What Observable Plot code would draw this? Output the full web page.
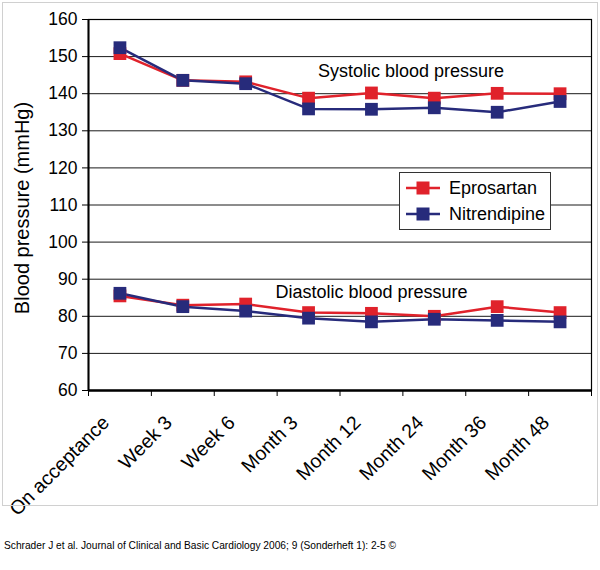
<!DOCTYPE html>
<html>
<head>
<meta charset="utf-8">
<script src="https://cdn.jsdelivr.net/npm/d3@7"></script>
<script src="https://cdn.jsdelivr.net/npm/@observablehq/plot@0.6"></script>
<style>
  html, body { margin: 0; padding: 0; background: white; }
  #wrap { position: relative; width: 600px; height: 570px; background: white; font-family: "Liberation Sans", Arial, sans-serif; overflow: hidden; }
  #border { position: absolute; left: 2px; top: 2px; width: 594px; height: 502px; border: 1px solid #d0d0d0; pointer-events: none; }
  #legend { position: absolute; left: 399px; top: 172px; width: 150px; height: 56px; border: 1px solid #333; background: white; font-size: 18px; color: black; }
  #legend .item { position: absolute; left: 5px; height: 24px; display: flex; align-items: center; }
  #legend svg { margin-right: 8px; }
  #caption { position: absolute; left: 4px; top: 540px; font-size: 10.2px; color: black; white-space: nowrap; }
</style>
</head>
<body>
<div id="wrap">
  <div id="chart"></div>
  <div id="border"></div>
  <div id="legend"></div>
  <div id="caption"></div>
</div>
<script>
const categories = ["On acceptance", "Week 3", "Week 6", "Month 3", "Month 12", "Month 24", "Month 36", "Month 48"];
const eprosartanSystolic   = [150.8, 143.6, 143.2, 138.8, 140.2, 138.8, 140.1, 140.0];
const nitrendipineSystolic = [152.4, 143.6, 142.7, 135.9, 135.8, 136.2, 135.0, 137.9];
const eprosartanDiastolic   = [85.5, 83.0, 83.3, 81.0, 80.8, 80.0, 82.6, 81.0];
const nitrendipineDiastolic = [86.2, 82.6, 81.4, 79.5, 78.5, 79.2, 78.9, 78.5];
const drugs = ["Eprosartan", "Nitrendipine"];
const drugColors = ["#e0222b", "#272b7b"];
const yTicks = [60, 70, 80, 90, 100, 110, 120, 130, 140, 150, 160];
const annotations = [
  {label: "Systolic blood pressure", pos: 5.13, value: 146.1},
  {label: "Diastolic blood pressure", pos: 4.5, value: 86.4}
];
const yLabel = "Blood pressure (mmHg)";
const captionText = "Schrader J et al. Journal of Clinical and Basic Cardiology 2006; 9 (Sonderheft 1): 2-5 \u00a9";

const seriesList = [
  {drug: "Eprosartan", kind: "Systolic", values: eprosartanSystolic},
  {drug: "Nitrendipine", kind: "Systolic", values: nitrendipineSystolic},
  {drug: "Eprosartan", kind: "Diastolic", values: eprosartanDiastolic},
  {drug: "Nitrendipine", kind: "Diastolic", values: nitrendipineDiastolic}
];
const table = seriesList.flatMap(s => s.values.map((v, i) => ({
  drug: s.drug, series: s.drug + " " + s.kind, pos: i + 0.5, value: v
})));
const boundaries = d3.range(0, categories.length + 1);
const centers = categories.map((c, i) => i + 0.5);

const plot = Plot.plot({
  width: 600,
  height: 535,
  marginLeft: 88,
  marginRight: 9,
  marginTop: 19,
  marginBottom: 145,
  style: {fontFamily: "'Liberation Sans', Arial, sans-serif", fontSize: "17.5px", color: "black", background: "white", overflow: "visible"},
  x: {domain: [0, categories.length], axis: null},
  y: {domain: [60, 160], axis: null},
  color: {domain: drugs, range: drugColors},
  marks: [
    Plot.gridY(yTicks, {stroke: "#1a1a1a", strokeOpacity: 1, strokeWidth: 1}),
    Plot.frame({stroke: "black", strokeWidth: 1.2}),
    Plot.ruleY([60], {stroke: "black", strokeWidth: 2.5}),
    Plot.ruleX([0], {stroke: "black", strokeWidth: 2}),
    Plot.axisY({ticks: yTicks, tickSize: 6, tickPadding: 5, fontSize: 17.5, label: null}),
    Plot.axisX({ticks: boundaries, tickFormat: () => "", tickSize: 6, label: null}),
    Plot.axisX({ticks: centers, tickFormat: v => categories[Math.floor(v)], tickSize: 0, tickPadding: 14, tickRotate: -45, fontSize: 19.5, dx: -14, dy: 15, label: null}),
    Plot.text([yLabel], {frameAnchor: "left", rotate: -90, dx: -66, dy: 3, textAnchor: "middle", lineAnchor: "middle", fontSize: 20, fill: "black"}),
    Plot.text(annotations, {x: "pos", y: "value", text: "label", fontSize: 18, fill: "black", textAnchor: "middle"}),
    Plot.line(table, {x: "pos", y: "value", z: "series", stroke: "drug", strokeWidth: 2.5}),
    Plot.dot(table, {x: "pos", y: "value", fill: "drug", symbol: "square", r: 7.2, stroke: null})
  ]
});
document.getElementById("chart").appendChild(plot);

// legend
const legend = d3.select("#legend");
drugs.forEach((d, i) => {
  const item = legend.append("div").attr("class", "item").style("top", (3 + i * 26) + "px");
  const svg = item.append("svg").attr("width", 36).attr("height", 20);
  svg.append("line").attr("x1", 1).attr("x2", 35).attr("y1", 10).attr("y2", 10).attr("stroke", drugColors[i]).attr("stroke-width", 2.5);
  svg.append("rect").attr("x", 11.5).attr("y", 3.5).attr("width", 13).attr("height", 13).attr("fill", drugColors[i]);
  item.append("span").text(d);
});
document.getElementById("caption").textContent = captionText;
</script>
</body>
</html>
